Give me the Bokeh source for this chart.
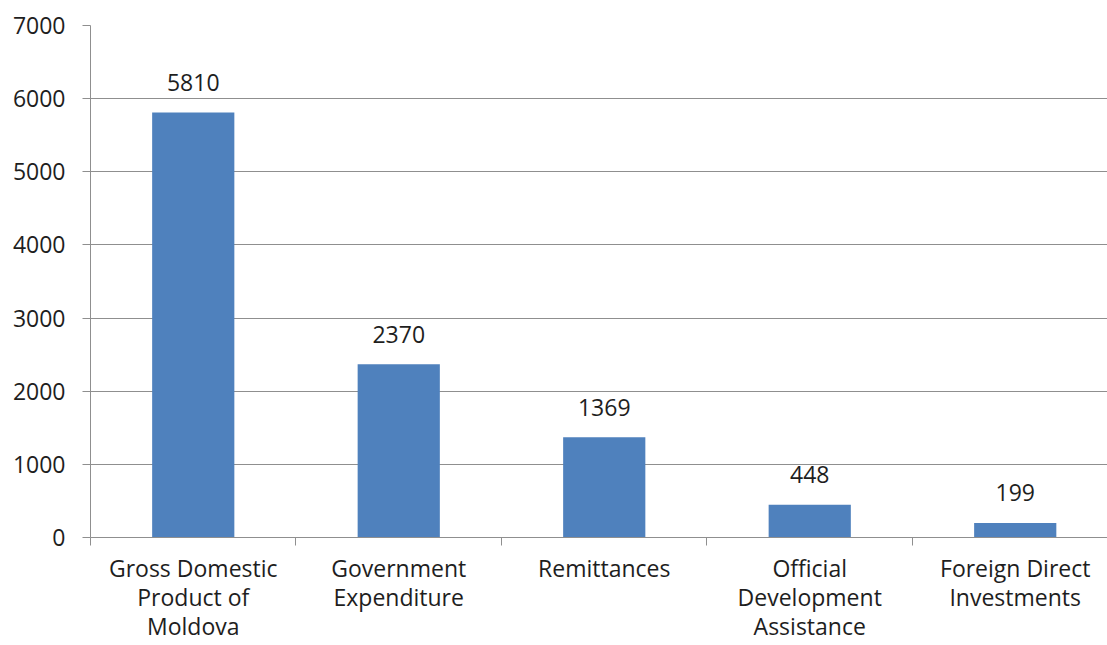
from bokeh.plotting import figure
from bokeh.models import Range1d, FixedTicker, ColumnDataSource
from bokeh.core.properties import value
from bokeh.embed import file_html
from bokeh.resources import INLINE

categories = ["Gross Domestic\nProduct of\nMoldova", "Government\nExpenditure", "Remittances",
              "Official\nDevelopment\nAssistance", "Foreign Direct\nInvestments"]
values = [5810, 2370, 1369, 448, 199]
y_ticks = [0, 1000, 2000, 3000, 4000, 5000, 6000, 7000]

FONT = "Open Sans"
FS = "23px"
TXT = "#1e1e1e"
GRID = "#8f8f8f"

xs = list(range(len(categories)))
src = ColumnDataSource(dict(x=xs, top=values, label=[str(v) for v in values]))

p = figure(width=1107, height=645, output_backend="svg", toolbar_location=None,
           x_range=Range1d(-0.5, 4.449), y_range=Range1d(0, 7000),
           min_border_left=90, min_border_right=0, min_border_top=25, min_border_bottom=108)
p.outline_line_color = None
p.background_fill_color = "white"
p.border_fill_color = "white"

p.vbar(x="x", top="top", width=0.4, source=src, fill_color="#4F81BD", line_color=None)
p.text(x="x", y="top", text="label", source=src, text_align="center", text_baseline="alphabetic",
       y_offset=-30, text_font=value(FONT), text_font_size=FS, text_color=TXT)

# y axis
p.yaxis.ticker = FixedTicker(ticks=y_ticks)
p.yaxis.axis_line_color = GRID
p.yaxis.major_tick_line_color = GRID
p.yaxis.major_tick_out = 8
p.yaxis.major_tick_in = 0
p.yaxis.minor_tick_line_color = None
p.yaxis.major_label_standoff = 17
p.yaxis.major_label_text_font = FONT
p.yaxis.major_label_text_font_size = FS
p.yaxis.major_label_text_color = TXT

# x axis: labels at centers, ticks at category boundaries
p.xaxis.ticker = FixedTicker(ticks=xs, minor_ticks=[-0.5, 0.5, 1.5, 2.5, 3.5, 4.5])
p.xaxis.major_label_overrides = {i: c for i, c in enumerate(categories)}
p.xaxis.axis_line_color = GRID
p.xaxis.major_tick_line_color = None
p.xaxis.major_tick_out = 0
p.xaxis.major_tick_in = 0
p.xaxis.minor_tick_line_color = GRID
p.xaxis.minor_tick_out = 8
p.xaxis.minor_tick_in = 0
p.xaxis.major_label_standoff = 6
p.xaxis.major_label_text_font = FONT
p.xaxis.major_label_text_font_size = FS
p.xaxis.major_label_text_color = TXT
p.xaxis.major_label_text_line_height = 0.92

p.xgrid.grid_line_color = None
p.ygrid.ticker = FixedTicker(ticks=y_ticks)
p.ygrid.grid_line_color = GRID

open("out.html", "w").write(file_html(p, INLINE))
